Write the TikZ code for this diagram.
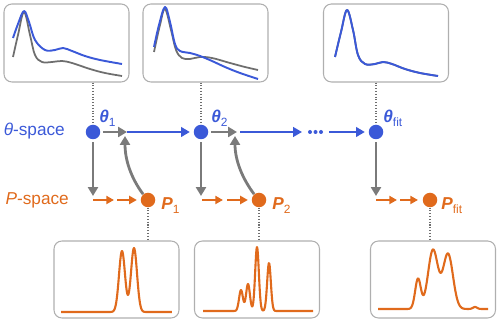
\documentclass[tikz,border=0pt]{standalone}
\usepackage{fontspec}
\setmainfont{Liberation Sans}
\usetikzlibrary{arrows.meta,calc}
\definecolor{tblue}{RGB}{59,89,216}
\definecolor{torange}{RGB}{224,106,28}
\definecolor{tgray}{RGB}{122,122,122}
\definecolor{boxgray}{RGB}{175,175,175}
\definecolor{datagray}{RGB}{110,110,110}
\newcommand{\lsub}[1]{\raisebox{-0.22em}{\fontsize{6.8}{7}\selectfont #1}}
\begin{document}
\begin{tikzpicture}[x=0.02cm,y=-0.02cm,
  panel/.style={draw=boxgray, line width=0.6pt, rounded corners=4.5pt, minimum width=2.5cm, inner sep=0pt},
  bdot/.style={circle, fill=tblue, minimum size=0.29cm, inner sep=0pt},
  odot/.style={circle, fill=torange, minimum size=0.29cm, inner sep=0pt},
  ddot/.style={circle, fill=tblue, minimum size=0.08cm, inner sep=0pt},
  grayarr/.style={draw=tgray, line width=1.6pt, -{Triangle[length=5pt,width=5.6pt]}},
  bluearr/.style={draw=tblue, line width=1.5pt, -{Triangle[length=5pt,width=5.4pt]}},
  orarr/.style={draw=torange, line width=1.4pt, -{Triangle[length=4.4pt,width=4.6pt]}},
  leader/.style={draw=datagray, line width=0.6pt, densely dotted},
  fitcurve/.style={tblue, line width=1.1pt, line join=round},
  datacurve/.style={datagray, line width=1pt, line join=round},
  speccurve/.style={torange, line width=1.2pt, line join=round},
  font=\fontsize{9.8}{11}\selectfont
]
\useasboundingbox (0,0) rectangle (500,323);

% panels
\node[panel, minimum height=1.56cm] (tb1) at (66.5,43) {};
\node[panel, minimum height=1.56cm] (tb2) at (205.5,43) {};
\node[panel, minimum height=1.56cm] (tb3) at (386,43) {};
\node[panel, minimum height=1.54cm] (bb1) at (116.5,279.5) {};
\node[panel, minimum height=1.54cm] (bb2) at (257,279.5) {};
\node[panel, minimum height=1.54cm] (bb3) at (433,279.5) {};

% top curves
\draw[datacurve] plot[smooth, tension=0.6] coordinates {(13,57) (18,35) (24,12) (30,35) (35,55) (42,62) (52,62) (62,61) (72,63) (90,69) (105,73) (122,76)};
\draw[fitcurve] plot[smooth, tension=0.6] coordinates {(13,38) (18,24) (24,11) (29,22) (35,40) (45,50) (55,50) (63,48) (72,51) (85,56) (100,60) (122,64)};

\draw[datacurve] plot[smooth, tension=0.6] coordinates {(154,52) (160,25) (165,9) (171,30) (176,50) (182,58) (190,59) (200,57) (212,58) (230,63) (245,67) (258,70)};
\draw[fitcurve] plot[smooth, tension=0.6] coordinates {(154,47) (159,25) (165,7) (170,22) (175,44) (180,51) (190,53) (200,56) (212,61) (225,67) (240,73) (258,79)};

\draw[datacurve] plot[smooth, tension=0.6] coordinates {(335,57) (341,32) (347,10) (353,30) (358,55) (365,64) (375,64) (383,62) (392,64) (405,69) (420,73) (438,76)};
\draw[fitcurve] plot[smooth, tension=0.6] coordinates {(335,57) (341,32) (347,10) (353,30) (358,55) (365,64) (375,64) (383,62) (392,64) (405,69) (420,73) (438,76)};

% bottom curves
\draw[speccurve] plot[domain=61:172, samples=220] (\x, {312 - 61*exp(-((\x-122)/4.25)^2) - 64*exp(-((\x-134)/4.25)^2)});
\draw[speccurve] plot[domain=203:313, samples=260] (\x, {311 - 21*exp(-((\x-241)/2.7)^2) - 27*exp(-((\x-248)/2.7)^2) - 64*exp(-((\x-257)/2.6)^2) - 48*exp(-((\x-269)/2.6)^2)});
\draw[speccurve] plot[domain=378:488, samples=220] (\x, {309 - 30*exp(-((\x-418)/4)^2) - 59*exp(-((\x-433)/7)^2) - 55*exp(-((\x-448)/7)^2) - 2*exp(-((\x-475)/3)^2)});

% state nodes
\node[bdot] (t1) at (93,132) {};
\node[bdot] (t2) at (201,132) {};
\node[bdot] (tf) at (376,132) {};
\node[odot] (p1) at (148,200) {};
\node[odot] (p2) at (259,200) {};
\node[odot] (pf) at (430,200) {};

% labels
\node[anchor=east, text=tblue] (tlab) at (71,131) {\textit{θ}-space};
\node[anchor=east, text=torange] (plab) at (75,200) {\textit{P}-space};
\node[anchor=base west, inner sep=0pt, text=tblue] (l1) at (99,123) {\textbf{\textit{θ}}\lsub{1}};
\node[anchor=base west, inner sep=0pt, text=tblue] (l2) at (211,123) {\textbf{\textit{θ}}\lsub{2}};
\node[anchor=base west, inner sep=0pt, text=tblue] (l3) at (383,123) {\textbf{\textit{θ}}\lsub{fit}};
\node[anchor=base west, inner sep=0pt, text=torange] (m1) at (161,210) {\textbf{\textit{P}}\lsub{1}};
\node[anchor=base west, inner sep=0pt, text=torange] (m2) at (272,210) {\textbf{\textit{P}}\lsub{2}};
\node[anchor=base west, inner sep=0pt, text=torange] (m3) at (441,210) {\textbf{\textit{P}}\lsub{fit}};

% leaders
\draw[leader] (tb1.south -| t1) -- (t1.north);
\draw[leader] (tb2.south -| t2) -- (t2.north);
\draw[leader] (tb3.south -| tf) -- (tf.north);
\draw[leader] (p1.south) -- (p1 |- bb1.north);
\draw[leader] (p2.south) -- (p2 |- bb2.north);
\draw[leader] (pf.south) -- (pf |- bb3.north);

% coordinates
\coordinate (j1) at (127,132);
\coordinate (j2) at (237,132);
\coordinate (k2) at (240,132);
\coordinate (d1) at (302,132);
\coordinate (d2) at (329,132);
\coordinate (q1) at (93,196);
\coordinate (q2) at (201,196);
\coordinate (q3) at (376,196);
\coordinate (o1) at (93,200);
\coordinate (o2) at (114,200);
\coordinate (o3) at (117,200);
\coordinate (o4) at (202,200);
\coordinate (o5) at (223,200);
\coordinate (o6) at (227,200);
\coordinate (o7) at (376,200);
\coordinate (o8) at (397,200);
\coordinate (o9) at (400,200);
\coordinate (u1) at (125,136);
\coordinate (u2) at (235,136);

% dots
\node[ddot] (e1) at (310,132) {};
\node[ddot] (e2) at (315.5,132) {};
\node[ddot] (e3) at (321,132) {};

% blue arrows
\draw[bluearr, shorten >=2pt] (j1) -- (t2);
\draw[bluearr] (k2) -- (d1);
\draw[bluearr, shorten >=2pt] (d2) -- (tf);

% gray arrows
\draw[grayarr, shorten <=1.5pt] (t1) -- (j1);
\draw[grayarr, shorten <=1.5pt] (t2) -- (j2);
\draw[grayarr, shorten <=1.5pt] (t1) -- (q1);
\draw[grayarr, shorten <=1.5pt] (t2) -- (q2);
\draw[grayarr, shorten <=1.5pt] (tf) -- (q3);
\draw[grayarr] (p1.130) .. controls (131,178) and (125,160) .. (u1);
\draw[grayarr] (p2.130) .. controls (242,178) and (235,160) .. (u2);

% orange arrows
\draw[orarr] (o1) -- (o2);
\draw[orarr, shorten >=2pt] (o3) -- (p1);
\draw[orarr] (o4) -- (o5);
\draw[orarr, shorten >=2pt] (o6) -- (p2);
\draw[orarr] (o7) -- (o8);
\draw[orarr, shorten >=2.5pt] (o9) -- (pf);
\end{tikzpicture}
\end{document}
